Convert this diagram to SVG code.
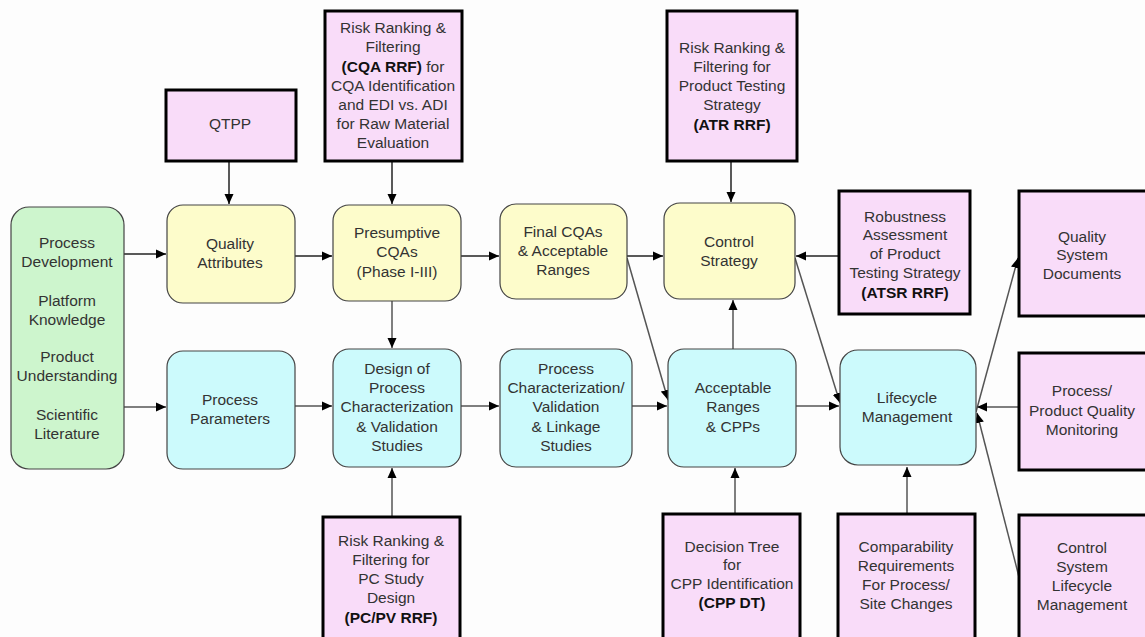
<svg xmlns="http://www.w3.org/2000/svg" width="1145" height="637" viewBox="0 0 1145 637">
<defs>
<style>
.t{font-family:"Liberation Sans",Arial,sans-serif;font-size:15.5px;fill:#333;text-anchor:middle}
.b{font-weight:bold;fill:#111}
.pk{fill:#f9dcf9;stroke:#000;stroke-width:3}
.ye{fill:#fdfccb;stroke:#444;stroke-width:1.2}
.cy{fill:#ccfafc;stroke:#444;stroke-width:1.2}
.gr{fill:#cdf5cd;stroke:#444;stroke-width:1.2}
.c{stroke:#222;stroke-width:1.5;fill:none;marker-end:url(#ah)}
.g{stroke:#555;stroke-width:1.5;fill:none;marker-end:url(#ah)}
</style>
<marker id="ah" viewBox="0 0 10 10" refX="10" refY="5" markerWidth="10" markerHeight="10" markerUnits="userSpaceOnUse" orient="auto">
<path d="M0,0.5 L10,5 L0,9.5 z" fill="#000"/>
</marker>
</defs>
<rect width="1145" height="637" fill="#fdfdfd"/>

<g id="connectors">
<line class="c" x1="229" y1="162" x2="229" y2="204"/>
<line class="c" x1="392" y1="162" x2="392" y2="204"/>
<line class="c" x1="731" y1="162" x2="731" y2="202"/>
<line class="c" x1="124" y1="254" x2="166" y2="254"/>
<line class="g" x1="124" y1="407" x2="166" y2="407"/>
<line class="c" x1="295" y1="256" x2="332" y2="256"/>
<line class="g" x1="295" y1="406" x2="332" y2="406"/>
<line class="g" x1="392" y1="301" x2="392" y2="348"/>
<line class="c" x1="461" y1="256" x2="499" y2="256"/>
<line class="g" x1="461" y1="406" x2="499" y2="406"/>
<line class="c" x1="627" y1="256" x2="663" y2="256"/>
<line class="g" x1="627" y1="258" x2="668" y2="400"/>
<line class="g" x1="632" y1="406" x2="667" y2="406"/>
<line class="g" x1="733" y1="349" x2="733" y2="300"/>
<line class="g" x1="735" y1="513" x2="735" y2="468"/>
<line class="g" x1="392" y1="517" x2="392" y2="468"/>
<line class="c" x1="839" y1="256" x2="796" y2="256"/>
<line class="g" x1="795" y1="258" x2="840" y2="403"/>
<line class="g" x1="796" y1="406" x2="839" y2="406"/>
<line class="g" x1="976" y1="412" x2="1018" y2="258"/>
<line class="g" x1="1019" y1="407" x2="977" y2="407"/>
<line class="g" x1="1019" y1="577" x2="977" y2="413"/>
<line class="g" x1="907" y1="513" x2="907" y2="467"/>
</g>

<g id="n-sources">
<rect class="gr" x="11" y="207" width="113" height="262" rx="18"/>
<text class="t" x="67" y="248">Process</text>
<text class="t" x="67" y="267">Development</text>
<text class="t" x="67" y="306">Platform</text>
<text class="t" x="67" y="325">Knowledge</text>
<text class="t" x="67" y="362">Product</text>
<text class="t" x="67" y="381">Understanding</text>
<text class="t" x="67" y="420">Scientific</text>
<text class="t" x="67" y="439">Literature</text>
</g>

<g id="n-qtpp">
<rect class="pk" x="166" y="90" width="130" height="71"/>
<text class="t" x="230" y="129">QTPP</text>
</g>

<g id="n-cqarrf">
<rect class="pk" x="325" y="11" width="137" height="150"/>
<text class="t" x="393" y="33">Risk Ranking &amp;</text>
<text class="t" x="393" y="52">Filtering</text>
<text class="t" x="393" y="72"><tspan class="b">(CQA RRF)</tspan> for</text>
<text class="t" x="393" y="91">CQA Identification</text>
<text class="t" x="393" y="110">and EDI vs. ADI</text>
<text class="t" x="393" y="129">for Raw Material</text>
<text class="t" x="393" y="148">Evaluation</text>
</g>

<g id="n-atrrrf">
<rect class="pk" x="667" y="11" width="130" height="150"/>
<text class="t" x="732" y="53">Risk Ranking &amp;</text>
<text class="t" x="732" y="72">Filtering for</text>
<text class="t" x="732" y="91">Product Testing</text>
<text class="t" x="732" y="110">Strategy</text>
<text class="t b" x="732" y="130">(ATR RRF)</text>
</g>

<g id="n-qa">
<rect class="ye" x="167" y="205" width="128" height="98" rx="16"/>
<text class="t" x="230" y="249">Quality</text>
<text class="t" x="230" y="268">Attributes</text>
</g>

<g id="n-pcqa">
<rect class="ye" x="333" y="205" width="128" height="96" rx="16"/>
<text class="t" x="397" y="238">Presumptive</text>
<text class="t" x="397" y="257">CQAs</text>
<text class="t" x="397" y="277">(Phase I-III)</text>
</g>

<g id="n-final">
<rect class="ye" x="500" y="204" width="127" height="95" rx="16"/>
<text class="t" x="563" y="237">Final CQAs</text>
<text class="t" x="563" y="256">&amp; Acceptable</text>
<text class="t" x="563" y="275">Ranges</text>
</g>

<g id="n-control">
<rect class="ye" x="664" y="203" width="131" height="96" rx="16"/>
<text class="t" x="729" y="247">Control</text>
<text class="t" x="729" y="266">Strategy</text>
</g>

<g id="n-atsr">
<rect class="pk" x="839" y="191" width="131" height="123"/>
<text class="t" x="905" y="222">Robustness</text>
<text class="t" x="905" y="240">Assessment</text>
<text class="t" x="905" y="259">of Product</text>
<text class="t" x="905" y="278">Testing Strategy</text>
<text class="t b" x="905" y="298">(ATSR RRF)</text>
</g>

<g id="n-qsd">
<rect class="pk" x="1019" y="191" width="130" height="125"/>
<text class="t" x="1082" y="242">Quality</text>
<text class="t" x="1082" y="260">System</text>
<text class="t" x="1082" y="279">Documents</text>
</g>

<g id="n-pp">
<rect class="cy" x="167" y="351" width="128" height="118" rx="16"/>
<text class="t" x="230" y="405">Process</text>
<text class="t" x="230" y="424">Parameters</text>
</g>

<g id="n-design">
<rect class="cy" x="333" y="349" width="128" height="118" rx="16"/>
<text class="t" x="397" y="374">Design of</text>
<text class="t" x="397" y="393">Process</text>
<text class="t" x="397" y="412">Characterization</text>
<text class="t" x="397" y="432">&amp; Validation</text>
<text class="t" x="397" y="451">Studies</text>
</g>

<g id="n-pcv">
<rect class="cy" x="500" y="349" width="132" height="118" rx="16"/>
<text class="t" x="566" y="374">Process</text>
<text class="t" x="566" y="393">Characterization/</text>
<text class="t" x="566" y="412">Validation</text>
<text class="t" x="566" y="432">&amp; Linkage</text>
<text class="t" x="566" y="451">Studies</text>
</g>

<g id="n-ar">
<rect class="cy" x="668" y="349" width="128" height="118" rx="16"/>
<text class="t" x="733" y="393">Acceptable</text>
<text class="t" x="733" y="412">Ranges</text>
<text class="t" x="733" y="432">&amp; CPPs</text>
</g>

<g id="n-lm">
<rect class="cy" x="840" y="350" width="136" height="115" rx="18"/>
<text class="t" x="907" y="403">Lifecycle</text>
<text class="t" x="907" y="422">Management</text>
</g>

<g id="n-ppqm">
<rect class="pk" x="1019" y="353" width="130" height="117"/>
<text class="t" x="1082" y="396">Process/</text>
<text class="t" x="1082" y="416">Product Quality</text>
<text class="t" x="1082" y="435">Monitoring</text>
</g>

<g id="n-pcpv">
<rect class="pk" x="323" y="517" width="137" height="130"/>
<text class="t" x="391" y="546">Risk Ranking &amp;</text>
<text class="t" x="391" y="565">Filtering for</text>
<text class="t" x="391" y="584">PC Study</text>
<text class="t" x="391" y="603">Design</text>
<text class="t b" x="391" y="623">(PC/PV RRF)</text>
</g>

<g id="n-cppdt">
<rect class="pk" x="663" y="514" width="137" height="130"/>
<text class="t" x="732" y="552">Decision Tree</text>
<text class="t" x="732" y="570">for</text>
<text class="t" x="732" y="589">CPP Identification</text>
<text class="t b" x="732" y="608">(CPP DT)</text>
</g>

<g id="n-comp">
<rect class="pk" x="838" y="514" width="137" height="130"/>
<text class="t" x="906" y="552">Comparability</text>
<text class="t" x="906" y="571">Requirements</text>
<text class="t" x="906" y="590">For Process/</text>
<text class="t" x="906" y="609">Site Changes</text>
</g>

<g id="n-cslm">
<rect class="pk" x="1019" y="515" width="130" height="130"/>
<text class="t" x="1082" y="553">Control</text>
<text class="t" x="1082" y="572">System</text>
<text class="t" x="1082" y="591">Lifecycle</text>
<text class="t" x="1082" y="610">Management</text>
</g>
</svg>
